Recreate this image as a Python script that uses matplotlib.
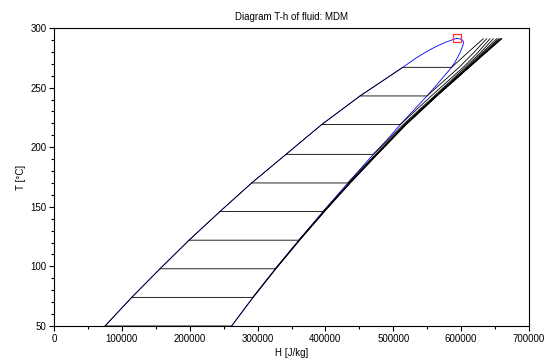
import numpy as np
import matplotlib
matplotlib.use("Agg")
import matplotlib.pyplot as plt
from matplotlib.ticker import MultipleLocator

plt.rcParams['font.family'] = ['Liberation Sans', 'DejaVu Sans']

# Saturation temperatures of the plotted isobars [°C]
T_sat = [50, 74, 98, 122, 146, 170, 194, 219, 243, 267]
# Saturated vapour enthalpy at those temperatures [J/kg]
H_vap = [261800, 293000, 326100, 360700, 396400, 433100, 470600, 510300, 549700, 586000]

# Saturation dome (liquid branch up to the critical point, vapour branch back down)
dome_T_liq = [50, 74, 98, 122, 146, 170, 194, 219, 243, 267, 275, 281, 285, 288, 290, 291.3]
dome_H_liq = [75200, 114500, 156200, 199000, 244500, 291300, 341900, 394500, 451000,
              514000, 534000, 551500, 565000, 577000, 586500, 593400]
dome_T_vap = [291.3, 290.8, 289.8, 288.4, 286.0, 283.0, 279.5, 275.8, 271.5, 267,
              259, 250.7, 243, 231, 219, 206, 194, 182, 170, 158, 146, 134, 122, 110, 98, 86, 74, 62, 50]
dome_H_vap = [593400, 598500, 602000, 603400, 603000, 601000, 598500, 595300, 591000, 586000,
              574000, 561500, 549700, 530000, 510300, 490400, 470600, 451800, 433100, 414700,
              396400, 378500, 360700, 343300, 326100, 309400, 293000, 277200, 261800]
T_crit = 291.3
H_crit = 593400

# Superheated vapour branch of each isobar, on a common temperature grid
T_grid = [50, 74, 98, 122, 146, 170, 194, 219, 243, 267, 279, 291]
sh_050 = [261800, 293600, 327000, 362000, 398500, 436500, 476500, 519000, 564500, 612000, 636000, 660000]
sh_074 = [None, 293000, 326800, 361800, 398300, 436300, 476300, 518700, 564000, 611500, 635000, 659300]
sh_098 = [None, None, 326100, 361500, 398000, 436000, 476000, 518400, 563600, 611000, 634500, 658500]
sh_122 = [None, None, None, 360700, 397600, 435600, 475600, 518000, 563200, 610500, 634000, 657200]
sh_146 = [None, None, None, None, 396400, 434900, 475000, 517500, 562700, 609500, 632500, 655000]
sh_170 = [None, None, None, None, None, 433100, 473800, 516500, 562000, 608500, 630500, 652300]
sh_194 = [None, None, None, None, None, None, 470600, 514500, 560500, 606000, 628000, 647400]
sh_219 = [None, None, None, None, None, None, None, 510300, 556000, 603000, 624000, 642500]
sh_243 = [None, None, None, None, None, None, None, None, 549700, 597000, 618000, 637600]
sh_267 = [None, None, None, None, None, None, None, None, None, 586000, 609000, 632700]
superheated = [sh_050, sh_074, sh_098, sh_122, sh_146, sh_170, sh_194, sh_219, sh_243, sh_267]

W, H = 547, 360
fig = plt.figure(figsize=(W / 100, H / 100), dpi=100)
ax = fig.add_axes([54 / W, 1 - 326 / H, (529 - 54) / W, (326 - 28) / H])

lw = 0.6
# saturation dome
ax.plot(dome_H_liq, dome_T_liq, color='#0000ff', lw=lw)
ax.plot(dome_H_vap, dome_T_vap, color='#0000ff', lw=lw)

# compressed-liquid part of the isobars (they all follow the liquid line)
liq_T = [t for t in dome_T_liq if t <= T_sat[-1]]
liq_H = dome_H_liq[:len(liq_T)]
ax.plot(liq_H, liq_T, color='black', lw=lw)

# two-phase plateau and superheated vapour part of each isobar
for i, ts in enumerate(T_sat):
    h_l = dome_H_liq[dome_T_liq.index(ts)]
    row = superheated[i]
    vap_T = [t for t, h in zip(T_grid, row) if h is not None]
    vap_H = [h for h in row if h is not None]
    ax.plot([h_l, H_vap[i]] + vap_H, [ts, ts] + vap_T, color='black', lw=lw)

ax.plot([H_crit], [T_crit], marker='s', ms=5.5, mfc='none', mec='#ff3030', mew=0.9)

ax.set_xlim(0, 700000)
ax.set_ylim(50, 300)
ax.xaxis.set_major_locator(MultipleLocator(100000))
ax.xaxis.set_minor_locator(MultipleLocator(50000))
ax.yaxis.set_major_locator(MultipleLocator(50))
ax.yaxis.set_minor_locator(MultipleLocator(10))
ax.tick_params(which='both', direction='out', labelsize=7, width=0.8, pad=2)
ax.tick_params(which='major', length=3.5)
ax.tick_params(which='minor', length=2.2)
for s in ax.spines.values():
    s.set_linewidth(0.8)

ax.set_title('Diagram T-h of fluid: MDM', fontsize=7, pad=6)
ax.set_xlabel('H [J/kg]', fontsize=7, labelpad=3)
ax.set_ylabel('T [°C]', fontsize=7, labelpad=3)

fig.savefig('out.png', dpi=100)
